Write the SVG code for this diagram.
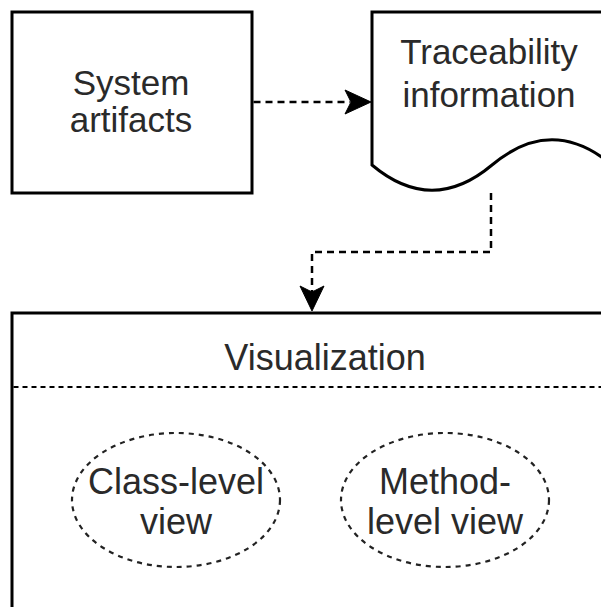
<svg xmlns="http://www.w3.org/2000/svg" width="601" height="607" viewBox="0 0 601 607">
  <style>
    .shape { fill: #ffffff; stroke: #000000; stroke-width: 3; }
    .label { font-family: "Liberation Sans", Arial, sans-serif; font-size: 35px; fill: #2a2a2a; text-anchor: middle; }
    .flow { fill: none; stroke: #000000; stroke-width: 2.5; stroke-dasharray: 7 5; }
    .head { fill: #000000; stroke: #000000; stroke-width: 1; stroke-linejoin: miter; }
    .divider { fill: none; stroke: #000000; stroke-width: 2.2; stroke-dasharray: 5 4; }
    .view { fill: none; stroke: #222222; stroke-width: 2.2; stroke-dasharray: 5 5; }
  </style>
  <rect width="601" height="607" fill="#ffffff"/>

  <!-- source box -->
  <g id="system-artifacts">
    <rect class="shape" x="12" y="12" width="240" height="181"/>
    <text class="label" x="131" y="95">System</text>
    <text class="label" x="131" y="132">artifacts</text>
  </g>

  <!-- document shape with wavy bottom edge -->
  <g id="traceability-information">
    <path class="shape" d="M372,12 H612 V165 Q552,114.6 492,165 Q432,215.4 372,165 Z"/>
    <text class="label" x="489" y="64">Traceability</text>
    <text class="label" x="489" y="107">information</text>
  </g>

  <!-- container with header separator -->
  <g id="visualization">
    <rect class="shape" x="12" y="313" width="700" height="400"/>
    <text class="label" x="325" y="370" style="font-size:36px">Visualization</text>
    <line class="divider" x1="13.5" y1="387" x2="612" y2="387"/>
  </g>

  <g id="class-level-view">
    <ellipse class="view" cx="176" cy="500" rx="104" ry="67"/>
    <text class="label" x="176" y="494" style="font-size:36px">Class-level</text>
    <text class="label" x="176" y="534" style="font-size:36px">view</text>
  </g>

  <g id="method-level-view">
    <ellipse class="view" cx="445" cy="500" rx="104" ry="67"/>
    <text class="label" x="445" y="494" style="font-size:36px">Method-</text>
    <text class="label" x="445" y="534" style="font-size:36px">level view</text>
  </g>

  <!-- connectors -->
  <g id="connectors">
    <path class="flow" d="M253.5,102 H350"/>
    <path class="head" d="M371,102 L345,90 L351,102 L345,114 Z"/>
    <path class="flow" d="M491,193 V252 H312 V292"/>
    <path class="head" d="M312,311 L300,286 L312,292 L324,286 Z"/>
  </g>
</svg>
